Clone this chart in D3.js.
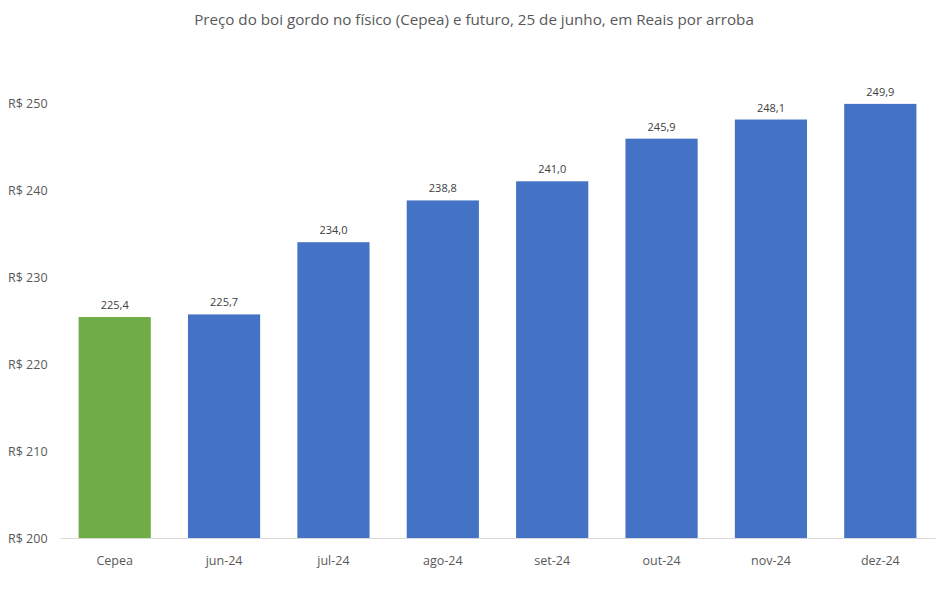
<!DOCTYPE html>
<html>
<head>
<meta charset="utf-8">
<script src="https://cdn.jsdelivr.net/npm/d3@7"></script>
<style>
  body { margin: 0; background: #fff; }
  svg, svg text { font-family: "Open Sans", "Noto Sans", sans-serif; }
  .y-axis text, .x-axis text { fill: #595959; font-size: 12.5px; font-family: "Open Sans", sans-serif; }
  .label { fill: #404040; font-size: 11px; }
</style>
</head>
<body>
<svg width="948" height="589"></svg>
<script>
// chart data
var categories = ["Cepea", "jun-24", "jul-24", "ago-24", "set-24", "out-24", "nov-24", "dez-24"];
var values = [225.4, 225.7, 234.0, 238.8, 241.0, 245.9, 248.1, 249.9];
var yTicks = [200, 210, 220, 230, 240, 250];

var margin = { top: 103, right: 13, bottom: 51, left: 60 }
    , width = 948 - margin.left - margin.right
    , height = 589 - margin.top - margin.bottom;

var svg = d3.select("svg");

svg.append("text")
    .attr("x", 474)
    .attr("y", 25)
    .attr("text-anchor", "middle")
    .style("font-size", "15.2px")
    .style("fill", "#595959")
    .text("Preço do boi gordo no físico (Cepea) e futuro, 25 de junho, em Reais por arroba");

var g = svg.append("g")
    .attr("transform", "translate(" + margin.left + "," + margin.top + ")");

var x = d3.scaleBand()
    .domain(categories)
    .range([0, width])
    .paddingInner(0.34)
    .paddingOuter(0.17);

var y = d3.scaleLinear()
    .domain([200, 250])
    .range([height, 0]);

var fmt = function (d) { return d.toFixed(1).replace(".", ","); };

// y axis labels only
g.append("g")
    .attr("class", "y-axis")
    .call(d3.axisLeft(y).tickValues(yTicks).tickSize(0).tickPadding(0)
        .tickFormat(function (d) { return "R$ " + d; }))
    .call(function (a) { a.select(".domain").remove(); })
    .selectAll("text")
    .attr("text-anchor", "start")
    .attr("x", -52);

g.selectAll("rect.bar")
    .data(values)
    .enter()
    .append("rect")
    .attr("class", "bar")
    .attr("x", function (d, i) { return x(categories[i]); })
    .attr("y", function (d) { return y(d); })
    .attr("width", x.bandwidth())
    .attr("height", function (d) { return height - y(d); })
    .attr("fill", function (d, i) { return i == 0 ? "#70ad47" : "#4472c4"; });

g.selectAll("text.label")
    .data(values)
    .enter()
    .append("text")
    .attr("class", "label")
    .attr("x", function (d, i) { return x(categories[i]) + x.bandwidth() / 2; })
    .attr("y", function (d) { return y(d) - 8; })
    .attr("text-anchor", "middle")
    .text(fmt);

var xAxis = g.append("g")
    .attr("class", "x-axis")
    .attr("transform", "translate(0," + height + ")")
    .call(d3.axisBottom(x).tickSize(0).tickPadding(18));
xAxis.select(".domain").attr("stroke", "#d9d9d9");
</script>
</body>
</html>
